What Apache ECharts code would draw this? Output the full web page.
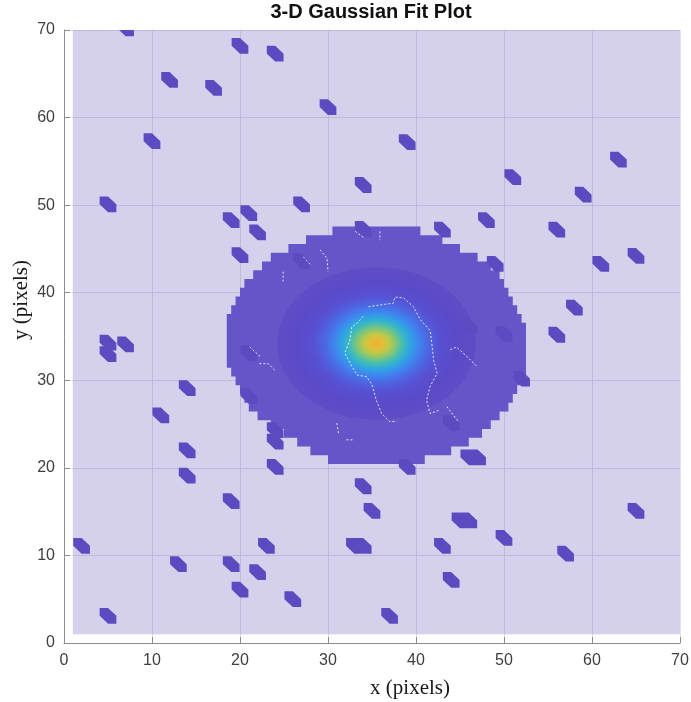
<!DOCTYPE html>
<html>
<head>
<meta charset="utf-8">
<title>3-D Gaussian Fit Plot</title>
<script src="https://cdn.jsdelivr.net/npm/echarts@6/dist/echarts.min.js"></script>
<style>
  html, body { margin: 0; padding: 0; background: #ffffff; }
  #chart { width: 691px; height: 702px; }
</style>
</head>
<body>
<div id="chart"></div>
<script>
// Tick values shared by both axes (pixels)
const axisTicks = [0, 10, 20, 30, 40, 50, 60, 70];

// Extent of the fitted surface: [xMin, xMax, yMin, yMax]
const planeExtent = [1, 70, 1, 70];

// Plateau of the fit above the noise floor: [row y, xStart, xEnd]
const plateauRows = [
  [47, 30.5, 40.5],
  [46, 27.5, 43],
  [45, 25.5, 45],
  [44, 23.5, 47],
  [43, 22.5, 48.5],
  [42, 21.5, 49.5],
  [41, 20.5, 50],
  [40, 20, 50.5],
  [39, 19.5, 51],
  [38, 19, 51.5],
  [37, 18.5, 52],
  [36, 18.5, 52.5],
  [35, 18.5, 52.5],
  [34, 18.5, 52.5],
  [33, 18.5, 52.5],
  [32, 18.5, 52.5],
  [31, 19, 52.5],
  [30, 19.5, 52],
  [29, 20, 51.5],
  [28, 20.5, 51],
  [27, 21, 50.5],
  [26, 22, 49.5],
  [25, 23.5, 48.5],
  [24, 25, 47.5],
  [23, 26.5, 46],
  [22, 28, 44],
  [21, 30, 41]
];

// Central lobe of the Gaussian: [centerX, centerY, radiusX, radiusY]
const coreLobe = [35.5, 34.2, 11.3, 8.7];

// Colour ramp across the lobe, peak outwards: offsets (fraction of radius) and colours
const rampOffsets = [0, 0.07, 0.13, 0.2, 0.27, 0.34, 0.42, 0.52, 0.64, 0.8, 1];
const rampColors = ['#ecb230', '#e2bf38', '#bdc84a', '#7dc67a', '#40bcb8', '#2fa6e0',
                    '#3e86f0', '#4d66e2', '#5750d2', '#5b4ac8', '#5d4dc5'];

// Isolated noise spikes on the surface: [x, y]
const spikes = [
  [7, 70.2], [12, 64.3], [17, 63.4], [20, 68.2], [24, 67.3], [30, 61.2],
  [10, 57.3], [39, 57.2], [5, 50.1], [27, 50.1], [34, 52.3], [51, 53.2],
  [63, 55.2], [59, 51.2], [56, 47.2], [48, 48.3], [43, 47.2], [19, 48.3],
  [21, 49.1], [22, 46.9], [20, 44.3], [34, 47.3], [49, 43.3], [61, 43.3],
  [65, 44.2], [58, 38.3], [56, 35.2], [5, 34.3], [5, 33], [7, 34.1],
  [14, 29.1], [11, 26], [14, 22], [14, 19.1], [19, 16.2], [2, 11.1],
  [13, 9], [19, 9], [23, 11.1], [22, 8.1], [20, 6.1], [26, 5],
  [5, 3.1], [37, 3.1], [44, 7.2], [43, 11.1], [33, 11.1], [34, 11.1],
  [35, 15.1], [34, 17.9], [39, 20.1], [46, 21.2], [47, 21.2], [45, 14],
  [46, 14], [50, 12], [57, 10.2], [65, 15.1], [24, 20.1], [24, 24.3],
  [24, 23], [21, 28.2], [21, 33.1], [52, 30.2], [44, 25.1], [46, 36.2],
  [50, 35.3], [27, 43.6]
];

// Light seams along facet edges: polylines of [x, y]
const seams = [
  [[34.6, 38.4], [35.9, 38.6], [37.4, 38.8], [37.6, 39.5], [38.6, 39.4], [39.7, 38.4], [40.5, 36.9],
   [41.6, 35.7], [41.8, 34.2], [42.0, 32.3], [42.4, 30.8], [41.6, 29.3], [41.2, 27.7], [41.6, 26.2], [42.7, 26.6]],
  [[34.0, 37.3], [33.3, 36.5], [32.7, 36.1], [32.5, 34.6], [31.9, 33.1], [32.7, 31.6], [33.3, 30.6],
   [34.4, 30.4], [35.0, 29.5], [35.5, 27.7], [36.1, 26.2], [37.0, 25.3], [37.8, 25.3]],
  [[21.1, 33.8], [22.3, 32.7]],
  [[22.2, 31.9], [23.2, 31.9], [24.1, 31.0]],
  [[27.2, 44.1], [28.0, 43.2]],
  [[29.1, 44.9], [29.9, 43.9], [30.0, 42.4]],
  [[33.1, 47.0], [34.2, 46.2]],
  [[35.9, 47.0], [35.9, 46.0]],
  [[43.9, 33.5], [44.6, 33.8], [45.8, 32.7], [46.9, 31.6]],
  [[31.0, 25.1], [31.2, 23.9]],
  [[32.1, 23.2], [32.9, 23.2]],
  [[43.5, 27.0], [44.8, 25.3]],
  [[24.9, 42.4], [24.9, 41.3]]
];

// ---- styling ----
const FLOOR_FILL = 'rgba(62,38,168,0.215)';
const PLATEAU_FILL = '#6456c8';
const SPIKE_FILL = '#5b4bc1';
const AXIS_GRAY = '#8c8c8c';
const LABEL_GRAY = '#404040';
// Outline of one spike, in grid units around its vertex
const SPIKE_SHAPE = [[-0.95, 0.9], [0, 0.9], [0.95, 0], [0.95, -0.9], [0, -0.9], [-0.95, 0]];

const chart = echarts.init(document.getElementById('chart'), null, { renderer: 'canvas' });

const tickStep = axisTicks[1] - axisTicks[0];
const axisCommon = {
  type: 'value',
  min: axisTicks[0],
  max: axisTicks[axisTicks.length - 1],
  interval: tickStep,
  axisLine: { show: true, onZero: false, lineStyle: { color: AXIS_GRAY, width: 1 } },
  axisTick: { show: true, inside: true, length: 6, lineStyle: { color: AXIS_GRAY, width: 1 } },
  axisLabel: { color: LABEL_GRAY, fontSize: 16, fontFamily: '"Liberation Sans", Arial, sans-serif' },
  splitLine: { show: true, lineStyle: { color: 'rgb(226,227,233)', width: 1 } }
};

const rampStops = rampOffsets.map((o, i) => ({ offset: o, color: rampColors[i] }));

const option = {
  animation: false,
  backgroundColor: '#ffffff',
  grid: { left: 64, right: 11, top: 30, bottom: 59, containLabel: false, outerBoundsMode: 'none' },
  xAxis: Object.assign({}, axisCommon, {
    axisLabel: Object.assign({}, axisCommon.axisLabel, { margin: 10 })
  }),
  yAxis: Object.assign({}, axisCommon, {
    axisLabel: Object.assign({}, axisCommon.axisLabel, { margin: 9 })
  }),
  graphic: [
    {
      type: 'text', x: 371, y: 12, silent: true,
      style: { text: '3-D Gaussian Fit Plot', align: 'center', verticalAlign: 'middle',
               font: 'bold 20px "Liberation Sans", Arial, sans-serif', fill: '#111111' }
    },
    {
      type: 'text', x: 410, y: 688, silent: true,
      style: { text: 'x (pixels)', align: 'center', verticalAlign: 'middle',
               font: '21px "Liberation Serif", serif', fill: '#1a1a1a' }
    },
    {
      type: 'text', x: 21, y: 300, rotation: Math.PI / 2, silent: true,
      style: { text: 'y (pixels)', align: 'center', verticalAlign: 'middle',
               font: '21px "Liberation Serif", serif', fill: '#1a1a1a' }
    }
  ],
  series: [
    {
      // noise floor of the surface
      type: 'custom', name: 'floor', silent: true, clip: true, z: 1,
      data: [planeExtent],
      renderItem: function (params, api) {
        const a = api.coord([api.value(0), api.value(3)]);
        const b = api.coord([api.value(1), api.value(2)]);
        return { type: 'rect', shape: { x: a[0], y: a[1], width: b[0] - a[0], height: b[1] - a[1] },
                 style: { fill: FLOOR_FILL } };
      }
    },
    {
      // plateau rows
      type: 'custom', name: 'plateau', silent: true, clip: true, z: 2,
      data: plateauRows,
      renderItem: function (params, api) {
        const y = api.value(0);
        const a = api.coord([api.value(1), y + 0.5]);
        const b = api.coord([api.value(2), y - 0.5]);
        return { type: 'rect', shape: { x: a[0], y: a[1] - 0.5, width: b[0] - a[0], height: b[1] - a[1] + 1 },
                 style: { fill: PLATEAU_FILL } };
      }
    },
    {
      // central Gaussian lobe
      type: 'custom', name: 'lobe', silent: true, clip: true, z: 3,
      data: [coreLobe],
      renderItem: function (params, api) {
        const c = api.coord([api.value(0), api.value(1)]);
        const s = api.size([api.value(2), api.value(3)]);
        return {
          type: 'circle', x: c[0], y: c[1], scaleY: s[1] / s[0],
          shape: { cx: 0, cy: 0, r: s[0] },
          style: { fill: new echarts.graphic.RadialGradient(0.5, 0.5, 0.5, rampStops) }
        };
      }
    },
    {
      // noise spikes
      type: 'custom', name: 'spikes', silent: true, clip: true, z: 4,
      data: spikes,
      renderItem: function (params, api) {
        const x = api.value(0), y = api.value(1);
        const pts = SPIKE_SHAPE.map(d => api.coord([x + d[0], y + d[1]]));
        return { type: 'polygon', shape: { points: pts }, style: { fill: SPIKE_FILL } };
      }
    },
    {
      // facet seams
      type: 'lines', name: 'seams', coordinateSystem: 'cartesian2d', polyline: true, silent: true, z: 5,
      data: seams.map(c => ({ coords: c })),
      lineStyle: { color: 'rgba(255,255,255,0.85)', width: 1, type: [2, 2], opacity: 1 }
    }
  ]
};

chart.setOption(option);
</script>
</body>
</html>
